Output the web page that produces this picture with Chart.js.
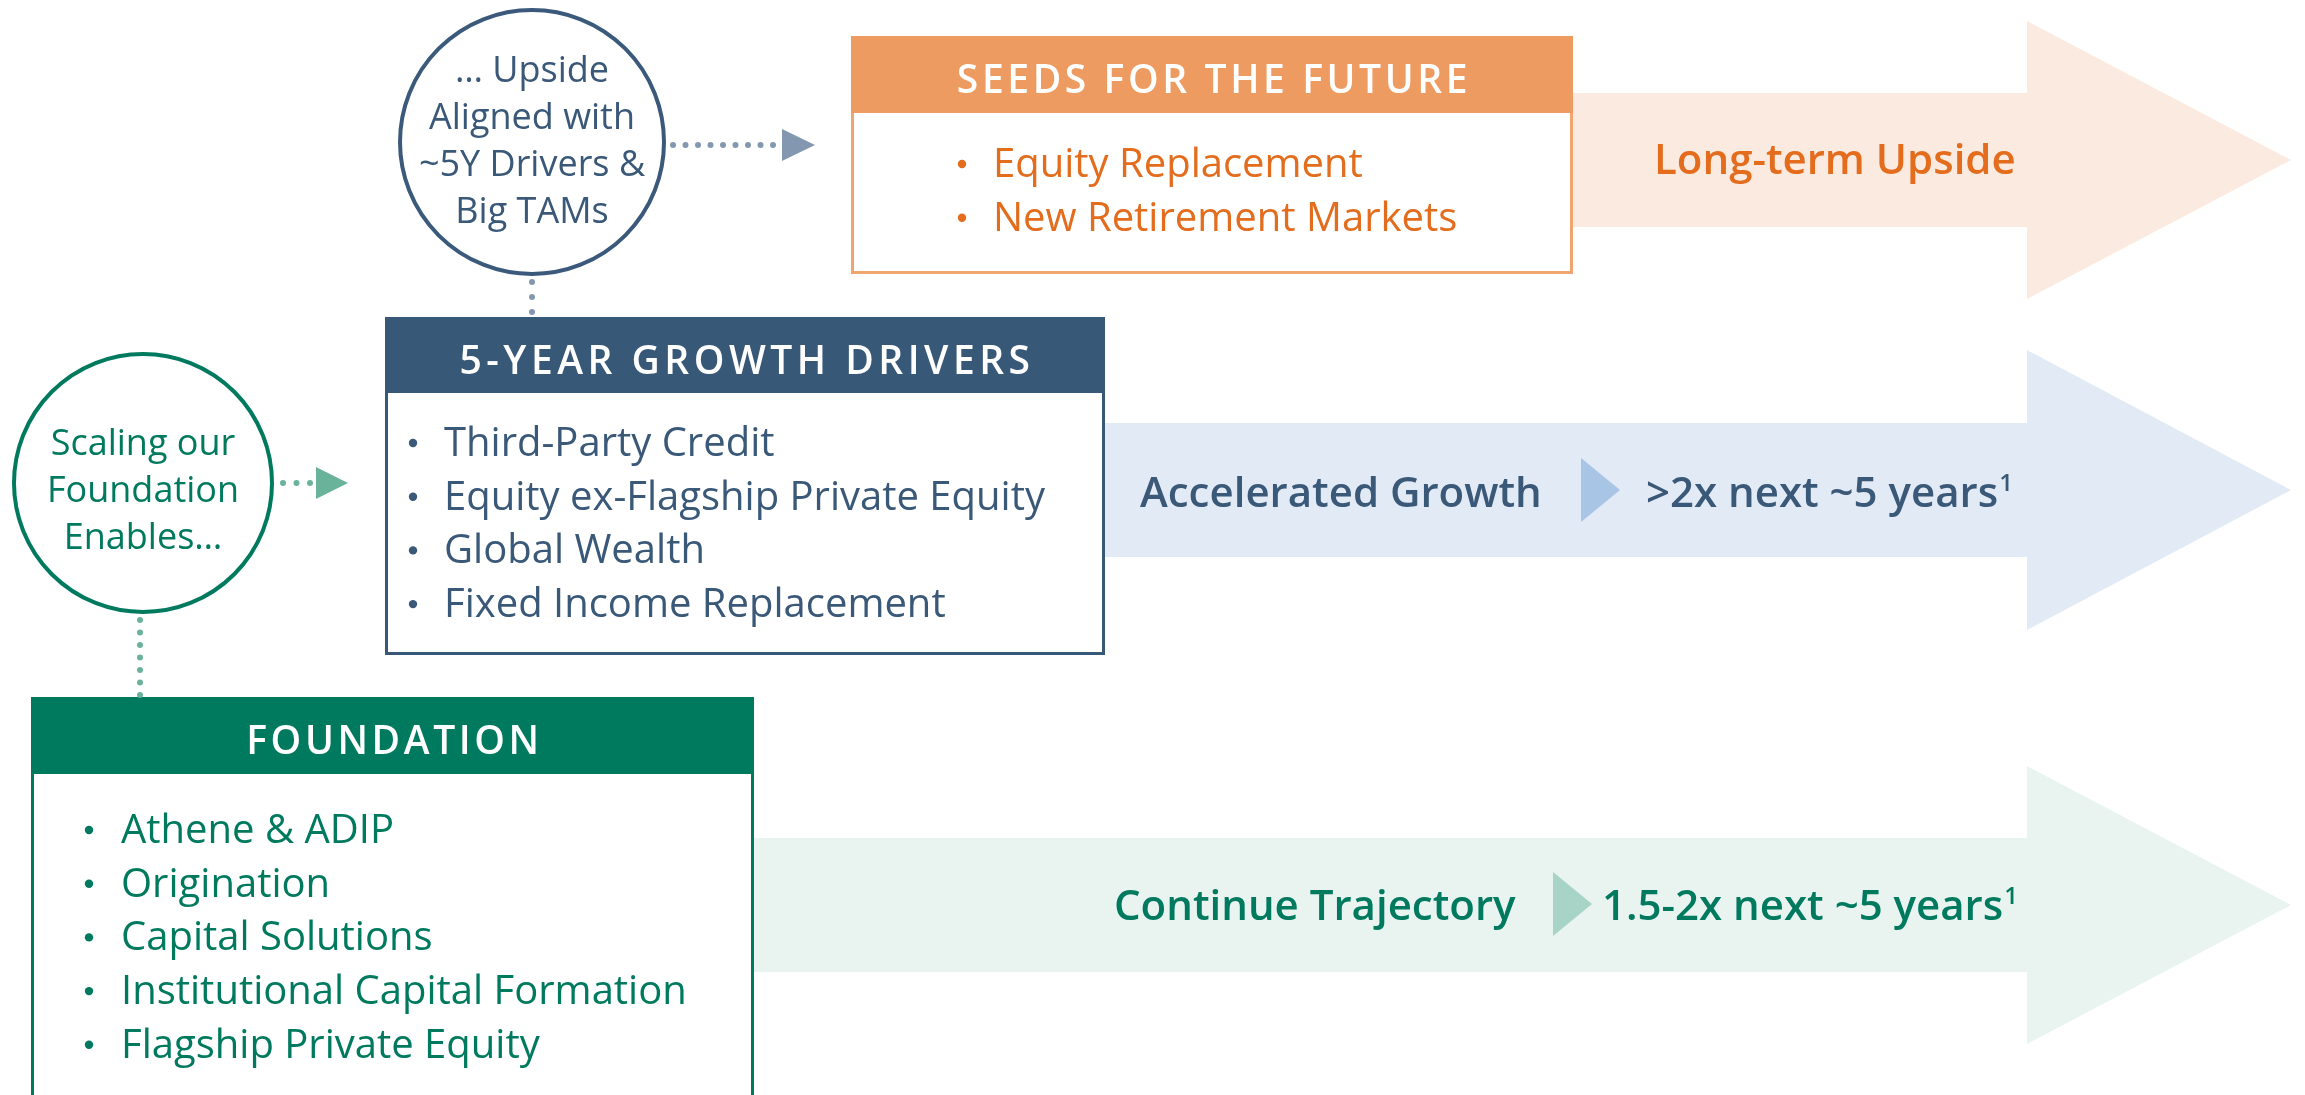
<!DOCTYPE html>
<html>
<head>
<meta charset="utf-8">
<script src="https://cdn.jsdelivr.net/npm/chart.js@4.4.0/dist/chart.umd.min.js"></script>
<style>
  html, body { margin: 0; padding: 0; background: #ffffff; }
  #wrap { width: 2305px; height: 1095px; }
</style>
</head>
<body>
<div id="wrap"><canvas id="chart" width="2305" height="1095"></canvas></div>
<script>
// content
const tierTitles = ["SEEDS FOR THE FUTURE", "5-YEAR GROWTH DRIVERS", "FOUNDATION"];
const seedItems = ["Equity Replacement", "New Retirement Markets"];
const driverItems = ["Third-Party Credit", "Equity ex-Flagship Private Equity", "Global Wealth", "Fixed Income Replacement"];
const foundationItems = ["Athene & ADIP", "Origination", "Capital Solutions", "Institutional Capital Formation", "Flagship Private Equity"];
const outcomeLabels = ["Long-term Upside", "Accelerated Growth", "Continue Trajectory"];
const growthMultiples = ["", ">2x next ~5 years", "1.5-2x next ~5 years"];
const footnoteMark = "1";
const upsideBubble = ["… Upside", "Aligned with", "~5Y Drivers &", "Big TAMs"];
const foundationBubble = ["Scaling our", "Foundation", "Enables…"];

const tierItems = [seedItems, driverItems, foundationItems];

// layout (in axis units, 1 unit = 1px)
const tierStyle = [
  { head: "#ED9B61", border: "#F0A46F", text: "#E36C1D", band: "#FBEADF", chevron: null },
  { head: "#385877", border: "#385877", text: "#3A5878", band: "#E2EAF5", chevron: "#A9C5E6" },
  { head: "#007A5E", border: "#007A5E", text: "#007A5E", band: "#E9F4F1", chevron: "#A8D3C7" }
];
const boxes = [
  { x0: 851, x1: 1573, y0: 36, y1: 274, head: 113, bulletX: 962, textX: 993, first: 177 },
  { x0: 385, x1: 1105, y0: 317, y1: 655, head: 393, bulletX: 413, textX: 444, first: 456 },
  { x0: 31, x1: 754, y0: 697, y1: 1110, head: 774, bulletX: 89, textX: 121, first: 843 }
];
const bands = [
  { x0: 1573, yc: 160, half: 67, neck: 2027, headHalf: 139, tip: 2291 },
  { x0: 1105, yc: 490, half: 67, neck: 2027, headHalf: 140, tip: 2291 },
  { x0: 754, yc: 905, half: 67, neck: 2027, headHalf: 139, tip: 2291 }
];
const outcomePos = [
  { x: 1654, y: 174, chev: null, multX: 0 },
  { x: 1140, y: 507, chev: [1581, 1620, 458, 522], multX: 1646 },
  { x: 1114, y: 920, chev: [1553, 1592, 872, 936], multX: 1602 }
];
const lineGap = 53.7;
const FONT = "'Open Sans', 'Noto Sans', sans-serif";

function dots(ctx, p, x0, y0, x1, y1, color) {
  const n = Math.round(Math.hypot(x1 - x0, y1 - y0) / 13.3);
  ctx.fillStyle = color;
  for (let i = 0; i <= n; i++) {
    const t = n ? i / n : 0;
    ctx.beginPath();
    ctx.arc(p.x(x0 + (x1 - x0) * t), p.y(y0 + (y1 - y0) * t), 3, 0, Math.PI * 2);
    ctx.fill();
  }
}

function tri(ctx, p, xa, xb, y0, y1, color) {
  ctx.fillStyle = color;
  ctx.beginPath();
  ctx.moveTo(p.x(xa), p.y(y0));
  ctx.lineTo(p.x(xb), p.y((y0 + y1) / 2));
  ctx.lineTo(p.x(xa), p.y(y1));
  ctx.closePath();
  ctx.fill();
}

const diagram = {
  id: "diagram",
  beforeDatasetsDraw(chart) {
    const ctx = chart.ctx;
    const p = { x: v => chart.scales.x.getPixelForValue(v), y: v => chart.scales.y.getPixelForValue(v) };
    ctx.save();

    // arrow bands
    bands.forEach((b, i) => {
      ctx.fillStyle = tierStyle[i].band;
      ctx.beginPath();
      ctx.moveTo(p.x(b.x0), p.y(b.yc - b.half));
      ctx.lineTo(p.x(b.neck), p.y(b.yc - b.half));
      ctx.lineTo(p.x(b.neck), p.y(b.yc - b.headHalf));
      ctx.lineTo(p.x(b.tip), p.y(b.yc));
      ctx.lineTo(p.x(b.neck), p.y(b.yc + b.headHalf));
      ctx.lineTo(p.x(b.neck), p.y(b.yc + b.half));
      ctx.lineTo(p.x(b.x0), p.y(b.yc + b.half));
      ctx.closePath();
      ctx.fill();
    });

    // boxes
    boxes.forEach((b, i) => {
      const s = tierStyle[i];
      ctx.fillStyle = "#ffffff";
      ctx.fillRect(p.x(b.x0), p.y(b.y0), p.x(b.x1) - p.x(b.x0), p.y(b.y1) - p.y(b.y0));
      ctx.strokeStyle = s.border;
      ctx.lineWidth = 3;
      ctx.strokeRect(p.x(b.x0) + 1.5, p.y(b.y0) + 1.5, p.x(b.x1) - p.x(b.x0) - 3, p.y(b.y1) - p.y(b.y0) - 3);
      ctx.fillStyle = s.head;
      ctx.fillRect(p.x(b.x0), p.y(b.y0), p.x(b.x1) - p.x(b.x0), p.y(b.head) - p.y(b.y0));

      ctx.fillStyle = "#ffffff";
      ctx.font = "600 39px " + FONT;
      ctx.letterSpacing = i === 1 ? "4.5px" : "3.6px";
      ctx.textAlign = "center";
      ctx.textBaseline = "alphabetic";
      ctx.fillText(tierTitles[i], p.x((b.x0 + b.x1) / 2) + 2, p.y(b.y0 + 57));
      ctx.letterSpacing = "0px";

      ctx.textAlign = "left";
      ctx.font = "400 40px " + FONT;
      tierItems[i].forEach((t, k) => {
        const y = b.first + k * lineGap;
        ctx.fillStyle = s.text;
        ctx.beginPath();
        ctx.arc(p.x(b.bulletX), p.y(y - 13), 4.2, 0, Math.PI * 2);
        ctx.fill();
        ctx.fillText(t, p.x(b.textX), p.y(y));
      });
    });

    // outcomes
    outcomePos.forEach((o, i) => {
      const s = tierStyle[i];
      ctx.fillStyle = s.text;
      ctx.textAlign = "left";
      ctx.font = "600 42px " + FONT;
      ctx.fillText(outcomeLabels[i], p.x(o.x), p.y(o.y));
      if (o.chev) {
        tri(ctx, p, o.chev[0], o.chev[1], o.chev[2], o.chev[3], s.chevron);
        ctx.fillStyle = s.text;
        ctx.font = "600 42px " + FONT;
        ctx.fillText(growthMultiples[i], p.x(o.multX), p.y(o.y));
        const w = ctx.measureText(growthMultiples[i]).width;
        ctx.font = "600 24px " + FONT;
        ctx.fillText(footnoteMark, p.x(o.multX) + w + 1, p.y(o.y - 16));
      }
    });

    // connectors
    dots(ctx, p, 673, 145, 773, 145, "#8497B0");
    tri(ctx, p, 782, 815, 129, 161, "#8497B0");
    dots(ctx, p, 532, 282, 532, 312, "#8497B0");
    dots(ctx, p, 283, 483, 310, 483, "#6AB39B");
    tri(ctx, p, 316, 348, 467, 499, "#6AB39B");
    dots(ctx, p, 140, 620, 140, 695, "#6AB39B");

    ctx.restore();
  },
  afterDatasetsDraw(chart) {
    const ctx = chart.ctx;
    const p = { x: v => chart.scales.x.getPixelForValue(v), y: v => chart.scales.y.getPixelForValue(v) };
    ctx.save();
    ctx.textAlign = "center";
    ctx.font = "400 36px " + FONT;
    ctx.fillStyle = "#3A5878";
    upsideBubble.forEach((t, k) => ctx.fillText(t, p.x(532), p.y(82 + k * 47)));
    ctx.fillStyle = "#007A5E";
    foundationBubble.forEach((t, k) => ctx.fillText(t, p.x(143), p.y(455 + k * 47)));
    ctx.restore();
  }
};

new Chart(document.getElementById("chart"), {
  type: "bubble",
  data: {
    datasets: [{
      data: [{ x: 532, y: 142, r: 132 }, { x: 143, y: 483, r: 129 }],
      backgroundColor: "#ffffff",
      borderColor: ["#3B5A7B", "#007A5E"],
      borderWidth: 4,
      clip: false
    }]
  },
  options: {
    responsive: false,
    animation: false,
    events: [],
    layout: { padding: 0, autoPadding: false },
    plugins: { legend: { display: false }, tooltip: { enabled: false } },
    scales: {
      x: { type: "linear", min: 0, max: 2305, display: false },
      y: { type: "linear", min: 0, max: 1095, reverse: true, display: false }
    }
  },
  plugins: [diagram]
});
</script>
</body>
</html>
